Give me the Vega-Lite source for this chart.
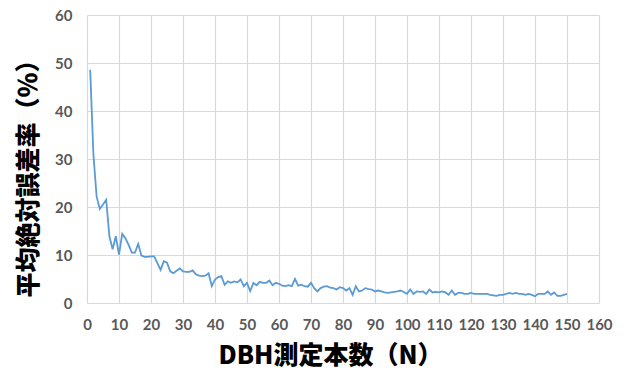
{
  "$schema": "https://vega.github.io/schema/vega-lite/v6.json",
  "autosize": "none",
  "width": 512,
  "height": 288,
  "padding": {"left": 87, "top": 15, "right": 28, "bottom": 89},
  "background": "white",
  "data": {"values": [
    {"n":1,"v":48.6},{"n":2,"v":31},{"n":3,"v":22.2},{"n":4,"v":19.6},{"n":5,"v":20.5},
    {"n":6,"v":21.5},{"n":7,"v":13.9},{"n":8,"v":11.2},{"n":9,"v":13.9},{"n":10,"v":10.1},
    {"n":11,"v":14.4},{"n":12,"v":13.5},{"n":13,"v":12.1},{"n":14,"v":10.5},{"n":15,"v":10.5},
    {"n":16,"v":12.3},{"n":17,"v":9.9},{"n":18,"v":9.6},{"n":19,"v":9.6},{"n":20,"v":9.7},
    {"n":21,"v":9.7},{"n":22,"v":8.3},{"n":23,"v":6.9},{"n":24,"v":8.7},{"n":25,"v":8.4},
    {"n":26,"v":6.6},{"n":27,"v":6.2},{"n":28,"v":6.7},{"n":29,"v":7.2},{"n":30,"v":6.6},
    {"n":31,"v":6.5},{"n":32,"v":6.5},{"n":33,"v":6.8},{"n":34,"v":6.0},{"n":35,"v":5.7},
    {"n":36,"v":5.6},{"n":37,"v":5.7},{"n":38,"v":6.2},{"n":39,"v":3.5},{"n":40,"v":4.9},
    {"n":41,"v":5.4},{"n":42,"v":5.6},{"n":43,"v":3.8},{"n":44,"v":4.5},{"n":45,"v":4.2},
    {"n":46,"v":4.5},{"n":47,"v":4.3},{"n":48,"v":4.9},{"n":49,"v":3.5},{"n":50,"v":4.2},
    {"n":51,"v":2.5},{"n":52,"v":4.2},{"n":53,"v":3.7},{"n":54,"v":4.4},{"n":55,"v":4.2},
    {"n":56,"v":4.2},{"n":57,"v":4.7},{"n":58,"v":3.7},{"n":59,"v":4.2},{"n":60,"v":4.0},
    {"n":61,"v":3.6},{"n":62,"v":3.5},{"n":63,"v":3.7},{"n":64,"v":3.5},{"n":65,"v":5.0},
    {"n":66,"v":3.6},{"n":67,"v":3.8},{"n":68,"v":3.5},{"n":69,"v":3.4},{"n":70,"v":4.2},
    {"n":71,"v":3.1},{"n":72,"v":2.4},{"n":73,"v":3.1},{"n":74,"v":3.4},{"n":75,"v":3.5},
    {"n":76,"v":3.2},{"n":77,"v":3.1},{"n":78,"v":2.8},{"n":79,"v":3.3},{"n":80,"v":3.1},
    {"n":81,"v":2.6},{"n":82,"v":3.1},{"n":83,"v":1.7},{"n":84,"v":3.5},{"n":85,"v":2.4},
    {"n":86,"v":2.6},{"n":87,"v":3.1},{"n":88,"v":2.9},{"n":89,"v":2.8},{"n":90,"v":2.4},
    {"n":91,"v":2.6},{"n":92,"v":2.4},{"n":93,"v":2.2},{"n":94,"v":2.1},{"n":95,"v":2.2},
    {"n":96,"v":2.3},{"n":97,"v":2.4},{"n":98,"v":2.6},{"n":99,"v":2.3},{"n":100,"v":1.9},
    {"n":101,"v":2.8},{"n":102,"v":1.9},{"n":103,"v":2.4},{"n":104,"v":2.3},{"n":105,"v":2.4},
    {"n":106,"v":1.9},{"n":107,"v":2.8},{"n":108,"v":2.2},{"n":109,"v":2.3},{"n":110,"v":2.2},
    {"n":111,"v":2.4},{"n":112,"v":2.2},{"n":113,"v":1.7},{"n":114,"v":2.6},{"n":115,"v":1.7},
    {"n":116,"v":2.1},{"n":117,"v":2.1},{"n":118,"v":1.9},{"n":119,"v":1.9},{"n":120,"v":2.1},
    {"n":121,"v":1.9},{"n":122,"v":1.9},{"n":123,"v":1.9},{"n":124,"v":1.9},{"n":125,"v":1.9},
    {"n":126,"v":1.7},{"n":127,"v":1.6},{"n":128,"v":1.5},{"n":129,"v":1.7},{"n":130,"v":1.7},
    {"n":131,"v":1.9},{"n":132,"v":2.1},{"n":133,"v":1.9},{"n":134,"v":2.1},{"n":135,"v":1.9},
    {"n":136,"v":1.9},{"n":137,"v":1.7},{"n":138,"v":1.9},{"n":139,"v":1.7},{"n":140,"v":1.4},
    {"n":141,"v":1.9},{"n":142,"v":1.9},{"n":143,"v":1.9},{"n":144,"v":2.4},{"n":145,"v":1.7},
    {"n":146,"v":2.2},{"n":147,"v":1.5},{"n":148,"v":1.5},{"n":149,"v":1.7},{"n":150,"v":1.9}
  ]},
  "mark": {"type": "line", "color": "#5B9BD5", "strokeWidth": 1.8},
  "encoding": {
    "x": {"field": "n", "type": "quantitative",
      "scale": {"domain": [0, 160], "nice": false},
      "axis": {"values": [0,10,20,30,40,50,60,70,80,90,100,110,120,130,140,150,160],
        "title": "DBH測定本数（N）", "titleX": 243, "titleY": 52, "titleBaseline": "middle",
        "titleFont": "Noto Sans CJK JP", "titleFontSize": 25, "titleFontWeight": 900, "titleColor": "#000000",
        "labelFont": "Lato", "labelFontSize": 15, "labelFontWeight": "bold", "labelColor": "#595959",
        "labelPadding": 14, "labelFlush": false, "domain": false, "ticks": false, "grid": true, "gridColor": "#d9d9d9", "gridWidth": 1.2,
        "labelOverlap": false}},
    "y": {"field": "v", "type": "quantitative",
      "scale": {"domain": [0, 60], "nice": false},
      "axis": {"values": [0,10,20,30,40,50,60],
        "title": "平均絶対誤差率（％）", "titleX": -59, "titleY": 157, "titleBaseline": "middle",
        "titleFont": "Noto Sans CJK JP", "titleFontSize": 25, "titleFontWeight": 900, "titleColor": "#000000",
        "labelFont": "Lato", "labelFontSize": 15, "labelFontWeight": "bold", "labelColor": "#595959",
        "labelPadding": 15, "labelFlush": false, "domain": false, "ticks": false, "grid": true, "gridColor": "#d9d9d9", "gridWidth": 1.2}}
  },
  "config": {"view": {"stroke": null}}
}
